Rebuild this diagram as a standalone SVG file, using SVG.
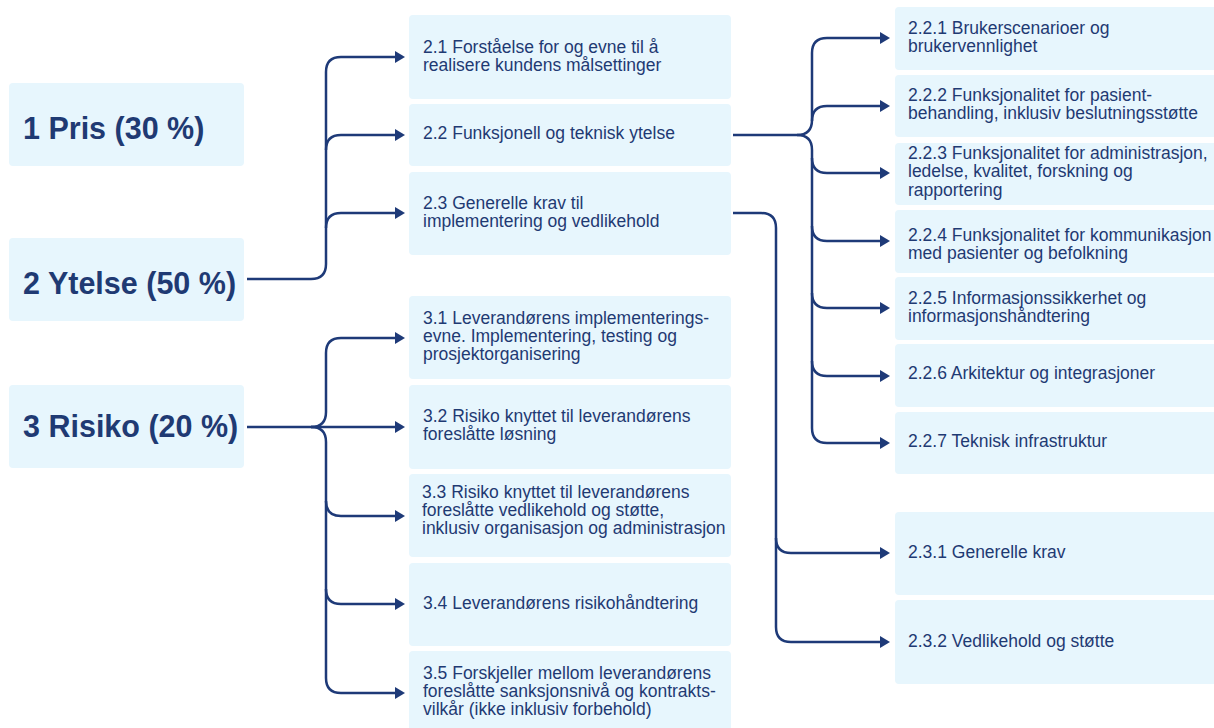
<svg xmlns="http://www.w3.org/2000/svg" width="1214" height="728" viewBox="0 0 1214 728">
<style>
.box{fill:#E7F6FD;}
.t{font-family:"Liberation Sans",Arial,sans-serif;font-size:17.5px;fill:#1F3A73;}
.big{font-family:"Liberation Sans",Arial,sans-serif;font-size:30.5px;font-weight:bold;fill:#1F3A73;}
.c{fill:none;stroke:#1E3A78;stroke-width:2.5;}
</style>
<defs>
<marker id="ah" viewBox="0 0 10 12" refX="0" refY="6" markerWidth="10" markerHeight="12" markerUnits="userSpaceOnUse" orient="auto">
<path d="M0,0 L10,6 L0,12 z" fill="#1E3A78"/>
</marker>
</defs>
<rect width="1214" height="728" fill="#ffffff"/>

<g id="n1"><rect class="box" x="9" y="83" width="235" height="83" rx="4"/><text class="big" x="23" y="139">1 Pris (30 %)</text></g>
<g id="n2"><rect class="box" x="9" y="238" width="235" height="83" rx="4"/><text class="big" x="23" y="294">2 Ytelse (50 %)</text></g>
<g id="n3"><rect class="box" x="9" y="385" width="235" height="83" rx="4"/><text class="big" x="23" y="437">3 Risiko (20 %)</text></g>

<g id="n21"><rect class="box" x="409" y="15" width="322" height="84" rx="4"/><text class="t" x="423" y="53">2.1 Forståelse for og evne til å</text><text class="t" x="423" y="71">realisere kundens målsettinger</text></g>
<g id="n22"><rect class="box" x="409" y="104" width="322" height="62" rx="4"/><text class="t" x="423" y="139">2.2 Funksjonell og teknisk ytelse</text></g>
<g id="n23"><rect class="box" x="409" y="172" width="322" height="83" rx="4"/><text class="t" x="423" y="209">2.3 Generelle krav til</text><text class="t" x="423" y="227">implementering og vedlikehold</text></g>

<g id="n31"><rect class="box" x="409" y="296" width="322" height="83" rx="4"/><text class="t" x="423" y="324">3.1 Leverandørens implementerings-</text><text class="t" x="423" y="342">evne. Implementering, testing og</text><text class="t" x="423" y="360">prosjektorganisering</text></g>
<g id="n32"><rect class="box" x="409" y="385" width="322" height="84" rx="4"/><text class="t" x="423" y="422">3.2 Risiko knyttet til leverandørens</text><text class="t" x="423" y="440">foreslåtte løsning</text></g>
<g id="n33"><rect class="box" x="409" y="474" width="322" height="83" rx="4"/><text class="t" x="422" y="498">3.3 Risiko knyttet til leverandørens</text><text class="t" x="422" y="516">foreslåtte vedlikehold og støtte,</text><text class="t" x="422" y="534">inklusiv organisasjon og administrasjon</text></g>
<g id="n34"><rect class="box" x="409" y="563" width="322" height="83" rx="4"/><text class="t" x="423" y="609">3.4 Leverandørens risikohåndtering</text></g>
<g id="n35"><rect class="box" x="409" y="651" width="322" height="83" rx="4"/><text class="t" x="423" y="679">3.5 Forskjeller mellom leverandørens</text><text class="t" x="423" y="697">foreslåtte sanksjonsnivå og kontrakts-</text><text class="t" x="423" y="715">vilkår (ikke inklusiv forbehold)</text></g>

<g id="n221"><rect class="box" x="895" y="7" width="325" height="63" rx="4"/><text class="t" x="908" y="34">2.2.1 Brukerscenarioer og</text><text class="t" x="908" y="52">brukervennlighet</text></g>
<g id="n222"><rect class="box" x="895" y="75" width="325" height="62" rx="4"/><text class="t" x="908" y="101">2.2.2 Funksjonalitet for pasient-</text><text class="t" x="908" y="119">behandling, inklusiv beslutningsstøtte</text></g>
<g id="n223"><rect class="box" x="895" y="143" width="325" height="62" rx="4"/><text class="t" x="908" y="159">2.2.3 Funksjonalitet for administrasjon,</text><text class="t" x="908" y="177">ledelse, kvalitet, forskning og</text><text class="t" x="908" y="196">rapportering</text></g>
<g id="n224"><rect class="box" x="895" y="210" width="325" height="63" rx="4"/><text class="t" x="908" y="241">2.2.4 Funksjonalitet for kommunikasjon</text><text class="t" x="908" y="259">med pasienter og befolkning</text></g>
<g id="n225"><rect class="box" x="895" y="277" width="325" height="63" rx="4"/><text class="t" x="908" y="304">2.2.5 Informasjonssikkerhet og</text><text class="t" x="908" y="322">informasjonshåndtering</text></g>
<g id="n226"><rect class="box" x="895" y="344" width="325" height="63" rx="4"/><text class="t" x="908" y="379">2.2.6 Arkitektur og integrasjoner</text></g>
<g id="n227"><rect class="box" x="895" y="412" width="325" height="62" rx="4"/><text class="t" x="908" y="447">2.2.7 Teknisk infrastruktur</text></g>
<g id="n231"><rect class="box" x="895" y="512" width="325" height="83" rx="4"/><text class="t" x="908" y="558">2.3.1 Generelle krav</text></g>
<g id="n232"><rect class="box" x="895" y="600" width="325" height="84" rx="4"/><text class="t" x="908" y="647">2.3.2 Vedlikehold og støtte</text></g>

<g id="connectors">
<path class="c" d="M247 279 H311 Q326 279 326 264 V72 Q326 57 341 57 H395" marker-end="url(#ah)"/>
<path class="c" d="M326 150 Q326 135 341 135 H395" marker-end="url(#ah)"/>
<path class="c" d="M326 228 Q326 213 341 213 H395" marker-end="url(#ah)"/>

<path class="c" d="M247 427 H395" marker-end="url(#ah)"/>
<path class="c" d="M311 427 Q326 427 326 412 V353 Q326 338 341 338 H395" marker-end="url(#ah)"/>
<path class="c" d="M311 427 Q326 427 326 442 V678 Q326 693 341 693 H395" marker-end="url(#ah)"/>
<path class="c" d="M326 501 Q326 516 341 516 H395" marker-end="url(#ah)"/>
<path class="c" d="M326 589 Q326 604 341 604 H395" marker-end="url(#ah)"/>

<path class="c" d="M733 135 H797 Q812 135 812 120 V53 Q812 38 827 38 H880" marker-end="url(#ah)"/>
<path class="c" d="M812 121 Q812 106 827 106 H880" marker-end="url(#ah)"/>
<path class="c" d="M797 135 Q812 135 812 150 V428 Q812 443 827 443 H880" marker-end="url(#ah)"/>
<path class="c" d="M812 158 Q812 173 827 173 H880" marker-end="url(#ah)"/>
<path class="c" d="M812 226 Q812 241 827 241 H880" marker-end="url(#ah)"/>
<path class="c" d="M812 293 Q812 308 827 308 H880" marker-end="url(#ah)"/>
<path class="c" d="M812 361 Q812 376 827 376 H880" marker-end="url(#ah)"/>

<path class="c" d="M733 213 H761 Q776 213 776 228 V627 Q776 642 791 642 H880" marker-end="url(#ah)"/>
<path class="c" d="M776 538 Q776 553 791 553 H880" marker-end="url(#ah)"/>
</g>
</svg>
